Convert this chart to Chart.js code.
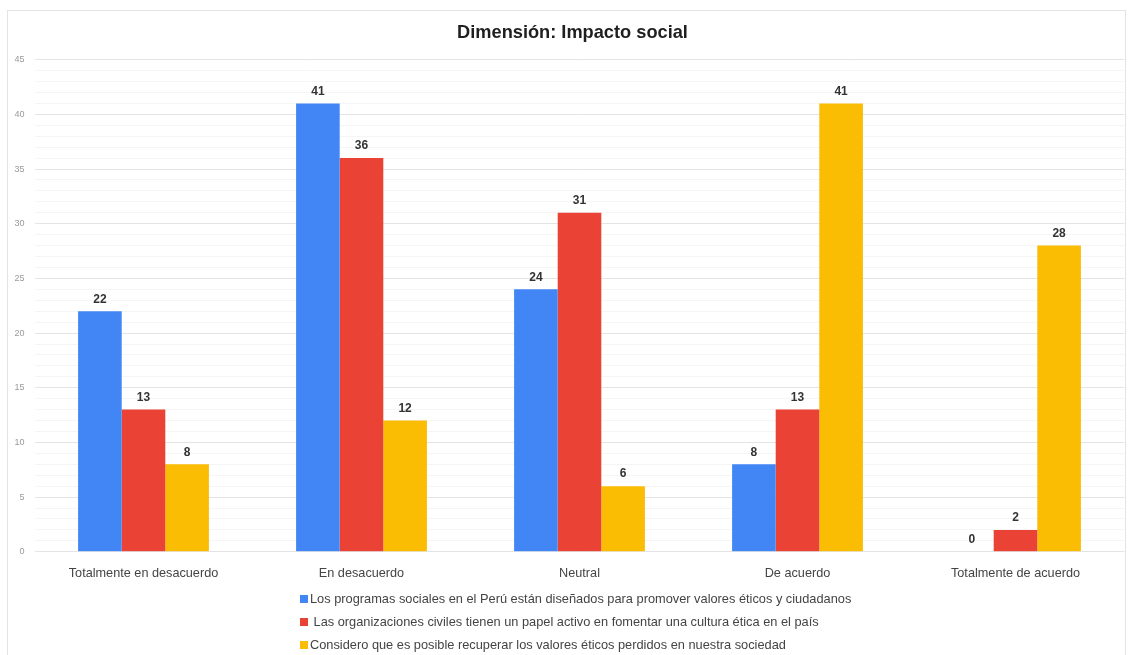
<!DOCTYPE html>
<html>
<head>
<meta charset="utf-8">
<script src="https://cdn.jsdelivr.net/npm/chart.js@4.4.1/dist/chart.umd.min.js"></script>
<style>
  html, body { margin: 0; padding: 0; background: #fff; }
  #wrap { position: relative; width: 1131px; height: 655px; }
  #card { position: absolute; left: 7px; top: 10px; width: 1119px; height: 660px; border: 1px solid #e3e3e3; box-sizing: border-box; }
  canvas { position: absolute; left: 0; top: 0; }
</style>
</head>
<body>
<div id="wrap">
  <div id="card"></div>
  <canvas id="c" width="1131" height="655"></canvas>
</div>
<script>
const titleText = "Dimensión: Impacto social";
const categories = ["Totalmente en desacuerdo", "En desacuerdo", "Neutral", "De acuerdo", "Totalmente de acuerdo"];
const seriesNames = [
  "Los programas sociales en el Perú están diseñados para promover valores éticos y ciudadanos",
  " Las organizaciones civiles tienen un papel activo en fomentar una cultura ética en el país",
  "Considero que es posible recuperar los valores éticos perdidos en nuestra sociedad"
];
const programasValues = [22, 41, 24, 8, 0];
const organizacionesValues = [13, 36, 31, 13, 2];
const recuperarValues = [8, 12, 6, 41, 28];
const yMax = 45;
const yLabelStep = 5;
const seriesColors = ["#4285F4", "#EA4335", "#FBBC04"];

const FONT = "'Liberation Sans', Arial, sans-serif";
const TITLE_FONT = "'Liberation Sans Narrow', 'Liberation Sans', Arial, sans-serif";

const titleDraw = {
  id: 'titleDraw',
  afterDraw(chart) {
    const ctx = chart.ctx;
    ctx.save();
    let size = 21;
    ctx.font = "bold " + size + "px " + TITLE_FONT;
    const w = ctx.measureText(titleText).width;
    size = size * 231 / w;
    ctx.font = "bold " + size.toFixed(2) + "px " + TITLE_FONT;
    ctx.fillStyle = "#1f1f1f";
    ctx.textAlign = "center";
    ctx.textBaseline = "alphabetic";
    ctx.fillText(titleText, 572.5, 38);
    ctx.restore();
  }
};

const valueLabels = {
  id: 'valueLabels',
  afterDatasetsDraw(chart) {
    const ctx = chart.ctx;
    ctx.save();
    ctx.font = "bold 12px " + FONT;
    ctx.fillStyle = "#333";
    ctx.textAlign = "center";
    ctx.textBaseline = "bottom";
    chart.data.datasets.forEach((ds, i) => {
      chart.getDatasetMeta(i).data.forEach((bar, j) => {
        ctx.fillText(String(ds.data[j]), bar.x, bar.y - 6);
      });
    });
    ctx.restore();
  }
};

const vLegend = {
  id: 'vLegend',
  afterDraw(chart) {
    const ctx = chart.ctx;
    ctx.save();
    ctx.font = "12.8px " + FONT;
    ctx.textBaseline = "middle";
    ctx.textAlign = "left";
    const x0 = 300, y0 = 599, dy = 23;
    chart.data.datasets.forEach((ds, i) => {
      const y = y0 + i * dy;
      ctx.fillStyle = ds.backgroundColor;
      ctx.fillRect(x0, y - 4, 8, 8);
      ctx.fillStyle = "#444";
      ctx.fillText(ds.label, x0 + 10, y);
    });
    ctx.restore();
  }
};

new Chart(document.getElementById('c'), {
  type: 'bar',
  data: {
    labels: categories,
    datasets: [
      { label: seriesNames[0], data: programasValues, backgroundColor: seriesColors[0] },
      { label: seriesNames[1], data: organizacionesValues, backgroundColor: seriesColors[1] },
      { label: seriesNames[2], data: recuperarValues, backgroundColor: seriesColors[2] }
    ]
  },
  options: {
    responsive: false,
    animation: false,
    devicePixelRatio: 1,
    categoryPercentage: 0.6,
    barPercentage: 1.0,
    layout: { padding: { left: 0, right: 6.5, top: 59.7, bottom: 60 } },
    plugins: {
      legend: { display: false },
      tooltip: { enabled: false },
      title: { display: false }
    },
    scales: {
      x: {
        grid: { display: false, drawTicks: false },
        border: { display: false },
        ticks: { color: "#444", font: { family: FONT, size: 12.7 }, padding: 14, maxRotation: 0 }
      },
      y: {
        min: 0, max: yMax,
        afterFit(scale) { scale.width = 34.5; },
        border: { display: false },
        grid: {
          drawTicks: false,
          color: (c) => (c.tick && c.tick.value % yLabelStep === 0) ? "#e4e4e4" : "#f5f5f5",
          lineWidth: 1
        },
        ticks: {
          stepSize: 1,
          autoSkip: false,
          color: "#999",
          font: { family: FONT, size: 9 },
          padding: 10,
          callback: (v) => (v % yLabelStep === 0 ? String(v) : '')
        }
      }
    }
  },
  plugins: [valueLabels, vLegend, titleDraw]
});
</script>
</body>
</html>
